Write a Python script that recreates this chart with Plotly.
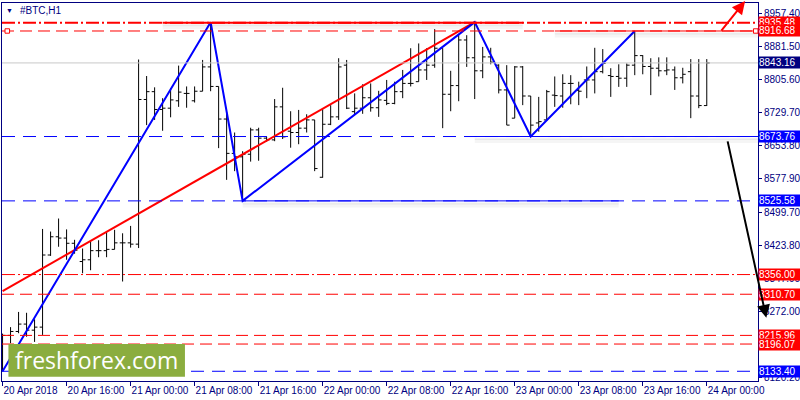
import pandas as pd
import plotly.graph_objects as go

# ---------------- data ----------------
start_time = "2018-04-20 08:00"
opens = [8190, 8216, 8225, 8242, 8228, 8235, 8401, 8443, 8440, 8428,
         8386, 8390, 8411, 8411, 8414, 8429, 8429, 8426, 8759, 8777,
         8736, 8739, 8756, 8773, 8756, 8778, 8834, 8789, 8714, 8635,
         8627, 8633, 8689, 8670, 8666, 8742, 8686, 8683, 8693, 8712,
         8580, 8702, 8719, 8838, 8731, 8739, 8763, 8740, 8757, 8750,
         8777, 8796, 8800, 8827, 8838, 8877, 8771, 8791, 8896, 8855,
         8825, 8857, 8838, 8781, 8716, 8834, 8767, 8705, 8712, 8769,
         8767, 8796, 8780, 8804, 8804, 8823, 8814, 8812, 8808, 8838,
         8860, 8835, 8831, 8825, 8827, 8809, 8823, 8767, 8745]
highs = [8220, 8235, 8270, 8268, 8253, 8461, 8455, 8485, 8460, 8436,
         8416, 8435, 8435, 8455, 8459, 8451, 8468, 8851, 8813, 8787,
         8762, 8785, 8837, 8789, 8789, 8850, 8937, 8789, 8730, 8683,
         8640, 8694, 8694, 8673, 8760, 8786, 8732, 8735, 8725, 8712,
         8737, 8746, 8854, 8850, 8773, 8794, 8796, 8779, 8804, 8800,
         8827, 8877, 8888, 8877, 8921, 8877, 8825, 8909, 8907, 8938,
         8880, 8878, 8840, 8838, 8836, 8836, 8767, 8765, 8781, 8812,
         8817, 8815, 8800, 8835, 8878, 8875, 8831, 8840, 8842, 8915,
         8861, 8854, 8856, 8856, 8835, 8832, 8852, 8852, 8852]
lows = [8133, 8198, 8221, 8213, 8201, 8217, 8399, 8420, 8390, 8404,
        8359, 8366, 8396, 8396, 8414, 8340, 8418, 8417, 8700, 8712,
        8687, 8718, 8742, 8740, 8752, 8778, 8778, 8647, 8574, 8594,
        8526, 8616, 8618, 8662, 8663, 8668, 8648, 8656, 8683, 8594,
        8579, 8700, 8712, 8737, 8723, 8726, 8731, 8719, 8746, 8748,
        8762, 8789, 8800, 8804, 8832, 8693, 8732, 8755, 8834, 8760,
        8808, 8840, 8773, 8700, 8716, 8746, 8677, 8685, 8710, 8742,
        8740, 8748, 8746, 8762, 8773, 8819, 8765, 8788, 8788, 8815,
        8817, 8769, 8812, 8815, 8781, 8796, 8716, 8739, 8744]
closes = [8216, 8225, 8242, 8228, 8235, 8401, 8443, 8440, 8428, 8412,
          8390, 8411, 8411, 8414, 8429, 8429, 8426, 8759, 8777, 8736,
          8739, 8758, 8776, 8773, 8778, 8834, 8789, 8714, 8635, 8627,
          8633, 8689, 8670, 8666, 8742, 8673, 8683, 8693, 8712, 8600,
          8702, 8719, 8834, 8739, 8739, 8763, 8740, 8758, 8750, 8777,
          8796, 8796, 8827, 8838, 8877, 8771, 8791, 8896, 8855, 8825,
          8857, 8845, 8781, 8700, 8834, 8767, 8700, 8708, 8777, 8768,
          8796, 8796, 8778, 8804, 8823, 8842, 8812, 8808, 8838, 8860,
          8835, 8831, 8825, 8827, 8809, 8817, 8767, 8745, 8843.16]

# zigzag (bar index, price)
zigzag_bars = [0, 26, 30, 59, 66, 79]
zigzag_prices = [8133.40, 8936.7, 8525.58, 8937.0, 8673.76, 8916.68]
# red trend line (bar index, price)
trend_bars = [0, 59]
trend_prices = [8318, 8937]

# horizontal levels
level_prices = [8935.48, 8916.68, 8843.16, 8673.76, 8525.58, 8356.00, 8310.70, 8215.96, 8196.07, 8133.40]
level_colors = ["#FF0000", "#FF0000", "#000080", "#0000FF", "#0000FF", "#FF0000", "#FF0000", "#FF0000", "#FF0000", "#0000FF"]

# y-axis tick labels
ytick_vals = [8957.40, 8881.50, 8805.60, 8729.70, 8653.80, 8577.90, 8499.70, 8423.80, 8347.90, 8272.00, 8196.10, 8120.20]
ytick_text = ["8957.40", "8881.50", "8805.60", "8729.70", "8653.80", "8577.90", "8499.70", "8423.80", "8347.90", "8272.00", "8196.10", "8120.20"]

# x-axis tick labels
xtick_vals = ["2018-04-20 08:00", "2018-04-20 16:00", "2018-04-21 00:00", "2018-04-21 08:00",
              "2018-04-21 16:00", "2018-04-22 00:00", "2018-04-22 08:00", "2018-04-22 16:00",
              "2018-04-23 00:00", "2018-04-23 08:00", "2018-04-23 16:00", "2018-04-24 00:00"]
xtick_text = ["20 Apr 2018", "20 Apr 16:00", "21 Apr 00:00", "21 Apr 08:00", "21 Apr 16:00",
              "22 Apr 00:00", "22 Apr 08:00", "22 Apr 16:00", "23 Apr 00:00", "23 Apr 08:00",
              "23 Apr 16:00", "24 Apr 00:00"]

# ---------------- figure ----------------
base = pd.Timestamp(start_time)
def bt(k):
    return base + pd.Timedelta(hours=k)

times = [bt(k) for k in range(len(opens))]
x_lo = bt(-0.07)
x_hi = bt(94.4)
y_lo, y_hi = 8111.0, 8981.1
ppx = (y_hi - y_lo) / 378.0  # price per pixel

FONT = "Liberation Sans, Arial, sans-serif"
NAVY = "#000080"

fig = go.Figure()
fig.add_trace(go.Ohlc(
    x=times, open=opens, high=highs, low=lows, close=closes,
    increasing=dict(line=dict(color="black", width=1)),
    decreasing=dict(line=dict(color="black", width=1)),
    tickwidth=0.36, showlegend=False, hoverinfo="skip"))

fig.add_trace(go.Scatter(x=[bt(k) for k in trend_bars], y=trend_prices, mode="lines",
                         line=dict(color="#FF0000", width=2), showlegend=False, hoverinfo="skip"))
fig.add_trace(go.Scatter(x=[bt(k) for k in zigzag_bars], y=zigzag_prices, mode="lines",
                         line=dict(color="#0000FF", width=2), showlegend=False, hoverinfo="skip"))

shapes = []
def hline(y, color, dash, width=1, x0=None, x1=None):
    shapes.append(dict(type="line", xref="x", yref="y",
                       x0=x0 if x0 is not None else x_lo, x1=x1 if x1 is not None else x_hi,
                       y0=y, y1=y, line=dict(color=color, width=width, dash=dash), layer="above"))

def shadow(y, x0, x1):
    for off, w, a in [(2.5, 2, 0.06), (4.5, 4, 0.04)]:
        shapes.append(dict(type="line", xref="x", yref="y", x0=x0, x1=x1,
                           y0=y - off * ppx, y1=y - off * ppx,
                           line=dict(color=f"rgba(0,0,0,{a})", width=w), layer="above"))

RED_DASH = "12px,6px"
BLUE_DASH = "13px,8px"
DASHDOT = "13px,3px,2px,3px"

# shadows first
shadow(level_prices[0], bt(20), bt(65))
shadow(level_prices[1], bt(69), x_hi)
shadow(level_prices[3], bt(59), x_hi)
shadow(level_prices[4], bt(30), bt(77))

hline(level_prices[2], "#C8C8C8", "solid")
hline(level_prices[0], "#FF0000", DASHDOT, width=2)
hline(level_prices[0], "#FF0000", "solid", width=2, x0=bt(20), x1=bt(65))
hline(level_prices[1], "#FF0000", RED_DASH)
hline(level_prices[1], "#FF0000", "solid", x0=bt(69))
hline(level_prices[3], "#0000FF", BLUE_DASH)
hline(level_prices[3], "#0000FF", "solid", x0=bt(59))
hline(level_prices[4], "#0000FF", BLUE_DASH)
hline(level_prices[4], "#0000FF", "solid", x0=bt(30), x1=bt(77))
hline(level_prices[5], "#FF0000", DASHDOT)
hline(level_prices[6], "#FF0000", RED_DASH)
hline(level_prices[7], "#FF0000", RED_DASH)
hline(level_prices[8], "#FF0000", RED_DASH)
hline(level_prices[9], "#0000FF", BLUE_DASH)

# small anchor squares on the 8916.68 line
for xp in [0.004, 0.994]:
    shapes.append(dict(type="rect", xref="paper", yref="y", x0=xp, x1=xp + 0.006,
                       y0=level_prices[1] - 2.2 * ppx, y1=level_prices[1] + 2.2 * ppx,
                       line=dict(color="#FF0000", width=1), fillcolor="white", layer="above"))

# logo box
shapes.append(dict(type="rect", xref="paper", yref="paper", x0=0.0085, x1=0.2420,
                   y0=0.0114, y1=0.0979, line=dict(width=0), fillcolor="#8BAD3F", layer="above"))

annotations = []
for p, c in zip(level_prices, level_colors):
    annotations.append(dict(x=1, xref="paper", y=p, yref="y", text=f"{p:.2f}", showarrow=False,
                            xanchor="left", yanchor="middle", align="left", bgcolor=c,
                            font=dict(color="white", size=10, family=FONT),
                            width=42, height=11, borderpad=0, xshift=0))

annotations.append(dict(x=0.003, xref="paper", y=0.979, yref="paper", text="▼", showarrow=False,
                        xanchor="left", yanchor="middle", font=dict(color=NAVY, size=7, family=FONT)))
annotations.append(dict(x=0.021, xref="paper", y=0.979, yref="paper", text="#BTC,H1", showarrow=False,
                        xanchor="left", yanchor="middle", font=dict(color=NAVY, size=10, family=FONT)))
annotations.append(dict(x=0.125, xref="paper", y=0.056, yref="paper", text="freshforex.com", showarrow=False,
                        xanchor="center", yanchor="middle",
                        font=dict(color="white", size=23, family="Open Sans, sans-serif")))

# arrows
annotations.append(dict(x=1.011, xref="paper", y=0.167, yref="paper", text="", showarrow=True,
                        axref="pixel", ayref="pixel", ax=-39, ay=-178, arrowhead=2, arrowsize=1.3,
                        arrowwidth=2, arrowcolor="black"))
annotations.append(dict(x=0.983, xref="paper", y=1.005, yref="paper", text="", showarrow=True,
                        axref="pixel", ayref="pixel", ax=-25, ay=31, arrowhead=2, arrowsize=1.3,
                        arrowwidth=2, arrowcolor="#FF0000"))

fig.update_layout(
    width=800, height=400,
    margin=dict(l=2, r=42, t=3, b=19, autoexpand=False),
    paper_bgcolor="white", plot_bgcolor="white",
    showlegend=False, shapes=shapes, annotations=annotations,
    font=dict(family=FONT, size=10, color=NAVY),
    xaxis=dict(type="date", range=[x_lo, x_hi], showgrid=False, zeroline=False,
               showline=True, mirror=True, linecolor=NAVY, linewidth=1,
               ticks="outside", ticklen=4, tickcolor=NAVY, tickangle=0, automargin=False,
               tickvals=xtick_vals, ticktext=xtick_text, ticklabelposition="outside right",
               tickfont=dict(size=10, color=NAVY, family=FONT),
               rangeslider=dict(visible=False)),
    yaxis=dict(side="right", range=[y_lo, y_hi], showgrid=False, zeroline=False,
               showline=True, mirror=True, linecolor=NAVY, linewidth=1,
               ticks="outside", ticklen=3, tickcolor=NAVY, automargin=False,
               tickvals=ytick_vals, ticktext=ytick_text,
               tickfont=dict(size=10, color=NAVY, family=FONT)),
)

fig.write_html("out.html", config={"displayModeBar": False, "staticPlot": True},
               post_script="document.body.style.margin='0';document.body.style.overflow='hidden';")
